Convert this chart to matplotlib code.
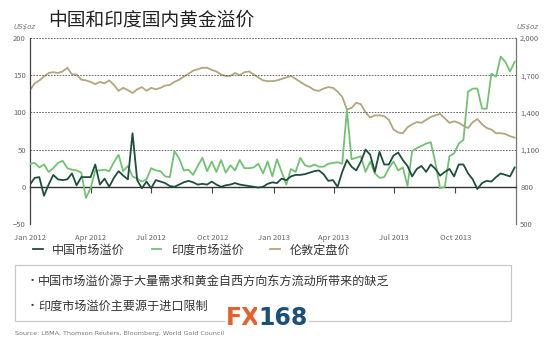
import matplotlib
matplotlib.use("Agg")
import matplotlib.pyplot as plt
import matplotlib.dates as mdates
import matplotlib.ticker as mticker
from matplotlib.patches import Rectangle
import pandas as pd

plt.rcParams['font.family'] = ['Noto Sans CJK SC', 'DejaVu Sans']

# weekly data
china = [3, 12, 13, -12, 3, 16, 10, 9, 10, 18, 2, 13, 13, 13, 30, 3, 11, 0, 12, 21,
         15, 10, 72, 9, -2, 7, -2, 9, 7, 5, 1, 0, 3, 6, 8, 6, 3, 4, 3, 7,
         3, 0, 2, 3, 5, 3, 2, 1, 0, -1, 0, 4, 6, 5, 11, 9, 14, 16, 16, 17,
         19, 21, 22, 17, 8, 9, 0, 20, 36, 27, 22, 34, 50, 43, 20, 47, 30, 30, 42, 46,
         36, 28, 14, 24, 28, 20, 30, 24, 15, 20, 24, 14, 30, 30, 18, 10, -3, 5, 8, 7,
         13, 18, 16, 14, 26]
india = [31, 32, 26, 30, 20, 25, 32, 35, 25, 23, 22, 19, -15, -2, 22, 22, 23, 21, 33, 43,
         21, 28, 14, 11, 7, 10, 25, 22, 21, 14, 13, 48, 38, 22, 23, 16, 28, 39, 21, 34,
         20, 36, 19, 29, 22, 36, 25, 25, 26, 31, 18, 34, 14, 37, 20, 3, 24, 20, 39, 29,
         27, 30, 27, 27, 31, 32, 33, 31, 103, 37, 39, 41, 20, 34, 18, 12, 13, 25, 34, 22,
         26, 1, 48, 52, 55, 58, 60, 32, -2, 0, 41, 45, 58, 63, 128, 132, 132, 105, 105, 152,
         148, 175, 168, 155, 168]
gold = [1580, 1634, 1658, 1688, 1718, 1724, 1718, 1730, 1760, 1706, 1706, 1664, 1658, 1646, 1628,
        1646, 1634, 1658, 1622, 1574, 1598, 1580, 1556, 1586, 1604, 1574, 1598, 1586, 1598, 1616,
        1622, 1646, 1664, 1688, 1712, 1736, 1748, 1760, 1760, 1742, 1730, 1706, 1694, 1694, 1718,
        1700, 1724, 1730, 1706, 1682, 1658, 1652, 1652, 1658, 1670, 1682, 1694, 1670, 1646, 1622,
        1604, 1580, 1574, 1592, 1604, 1598, 1568, 1526, 1424, 1436, 1478, 1466, 1400, 1358, 1376,
        1376, 1370, 1340, 1262, 1238, 1232, 1280, 1304, 1322, 1316, 1340, 1364, 1376, 1388, 1352,
        1316, 1328, 1316, 1292, 1274, 1322, 1346, 1304, 1274, 1262, 1232, 1232, 1226, 1208, 1196]

dates = pd.date_range('2012-01-01', periods=len(china), freq='7D')

labels = ['中国市场溢价', '印度市场溢价', '伦敦定盘价']
colors = ['#1f4e3d', '#72c274', '#b3a57c']
grid_c = '#555555'

fig = plt.figure(figsize=(5.5, 3.46), dpi=100)
ax = fig.add_axes([30/550, 1-224/346, 486/550, 186/346])
ax2 = ax.twinx()

l3, = ax2.plot(dates, gold, color=colors[2], lw=1.3)
l1, = ax.plot(dates[:len(china)], china, color=colors[0], lw=1.3, zorder=4)
l2, = ax.plot(dates[:len(india)], india, color=colors[1], lw=1.3, zorder=3)
ax.set_zorder(ax2.get_zorder() + 1)
ax.patch.set_visible(False)

ax.set_ylim(-50, 200)
ax2.set_ylim(500, 2000)
ax.set_xlim(pd.Timestamp('2012-01-01'), pd.Timestamp('2013-12-31'))
ax.set_yticks([-50, 0, 50, 100, 150, 200])
ax2.set_yticks([500, 800, 1100, 1400, 1700, 2000])
ax2.yaxis.set_major_formatter(mticker.StrMethodFormatter('{x:,.0f}'))

for y in [-50, 50, 100, 150, 200]:
    ax.axhline(y, color=grid_c, lw=0.6, ls=(0, (2, 1.5)), zorder=1)

ax.xaxis.set_major_locator(mdates.MonthLocator(bymonth=[1, 4, 7, 10]))
ax.xaxis.set_major_formatter(mdates.DateFormatter('%b %Y'))

for a in (ax, ax2):
    for s in ['top', 'bottom', 'left', 'right']:
        a.spines[s].set_visible(False)
ax.spines['bottom'].set_visible(True)
ax.spines['bottom'].set_position(('data', 0))
ax.spines['bottom'].set_color('#333333')
ax.spines['bottom'].set_linewidth(1.0)
ax.spines['left'].set_visible(True)
ax.spines['left'].set_color('#444444')
ax.spines['left'].set_linewidth(0.9)
ax2.spines['right'].set_visible(True)
ax2.spines['right'].set_color('#777777')
ax2.spines['right'].set_linewidth(0.9)

ax.tick_params(axis='x', direction='out', length=4, width=0.8, color='#444444',
               pad=30, labelsize=5.5, labelcolor='#666666')
ax.tick_params(axis='y', length=0, pad=3, labelsize=5.5, labelcolor='#666666')
ax2.tick_params(axis='y', length=0, pad=3, labelsize=5.5, labelcolor='#666666')

fig.text(48/550, 1-20/346, '中国和印度国内黄金溢价', fontsize=13.5, va='center', ha='left',
         color='#222222')
fig.text(14/550, 1-27/346, 'US$oz', fontsize=5, style='italic', color='#777777', va='center',
         family='DejaVu Sans')
fig.text(517/550, 1-27/346, 'US$oz', fontsize=5, style='italic', color='#777777', va='center',
         family='DejaVu Sans')

leg = fig.legend([l1, l2, l3], labels, loc='center left', bbox_to_anchor=(22/550, 1-250/346),
                 ncol=3, frameon=False, fontsize=8.7, handlelength=0.8, handletextpad=0.8,
                 columnspacing=2.2, labelcolor='#333333')

fig.patches.append(Rectangle((15/550, 1-321/346), 496/550, 56/346, transform=fig.transFigure,
                             fill=False, ec='#c8c8c8', lw=0.9))
fig.text(27/550, 1-281/346, '•', fontsize=8, va='center', color='#333333')
fig.text(38/550, 1-281/346, '中国市场溢价源于大量需求和黄金自西方向东方流动所带来的缺乏',
         fontsize=8.7, va='center', color='#333333')
fig.text(27/550, 1-306/346, '•', fontsize=8, va='center', color='#333333')
fig.text(38/550, 1-306/346, '印度市场溢价主要源于进口限制', fontsize=8.7, va='center', color='#333333')

fig.text(15/550, 1-333/346, 'Source: LBMA, Thomson Reuters, Bloomberg, World Gold Council',
         fontsize=4.6, va='center', color='#777777', family='DejaVu Sans')

fx = fig.text(226/550, 1-318/346, 'FX', fontsize=17, weight='bold', va='center', color='#e8612c',
              family='DejaVu Sans', bbox=dict(fc='white', ec='none', pad=1))
fig.canvas.draw()
bb = fx.get_window_extent()
fig.text(bb.x1/550 - 2/550, 1-318/346, '168', fontsize=17, weight='bold', va='center',
         color='#1d4f7c', family='DejaVu Sans', bbox=dict(fc='white', ec='none', pad=1))

fig.savefig('out.png', dpi=100)
